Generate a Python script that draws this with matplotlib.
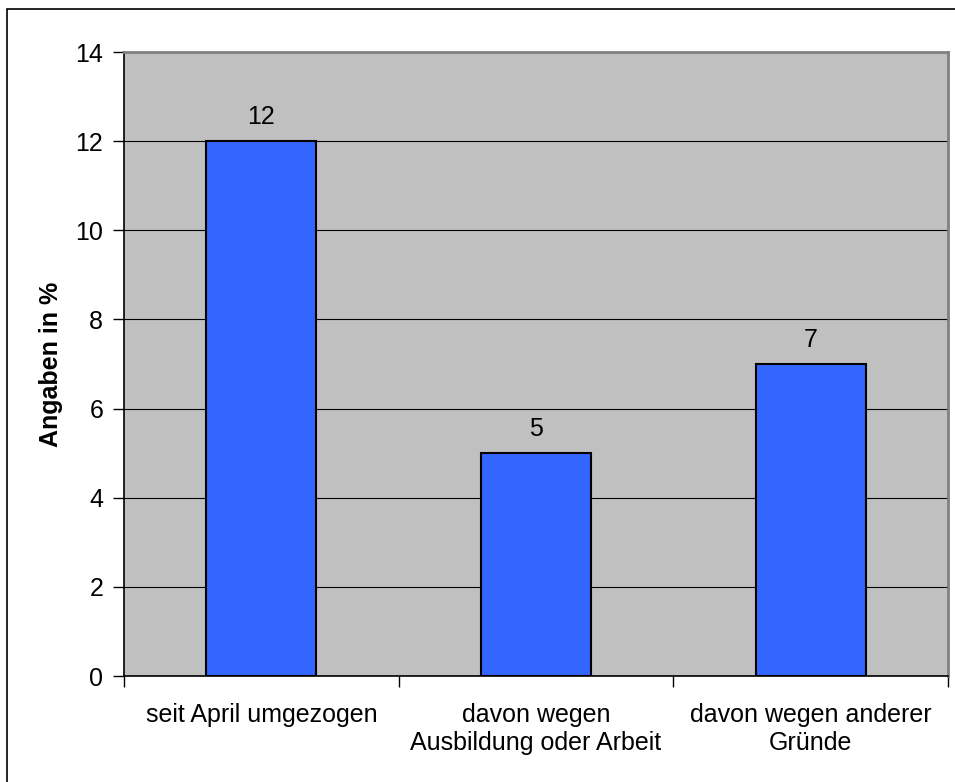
import matplotlib
matplotlib.use("Agg")
import matplotlib.pyplot as plt
from matplotlib.patches import Rectangle

plt.rcParams['font.family'] = ['Liberation Sans', 'DejaVu Sans']

categories = ["seit April umgezogen", "davon wegen\nAusbildung oder Arbeit", "davon wegen anderer\nGründe"]
values = [12, 5, 7]
y_ticks = [0, 2, 4, 6, 8, 10, 12, 14]

W, H = 955, 782
fig = plt.figure(figsize=(W / 100, H / 100), dpi=100)

# outer frame (left and top edges visible)
fig.patches.append(Rectangle((7 / W, -0.1), 1.2, (H - 9) / H + 0.1, transform=fig.transFigure,
                             fill=False, edgecolor='black', linewidth=1.2))

left, right, top, bottom = 124, 948, 52, 676
ax = fig.add_axes([left / W, 1 - bottom / H, (right - left) / W, (bottom - top) / H])
ax.set_facecolor('#C0C0C0')

FS = 18
x = list(range(len(categories)))
ax.bar(x, values, width=0.4, color='#3366FF', edgecolor='black', linewidth=1.5, zorder=3)

for xi, v in zip(x, values):
    ax.text(xi, v + 0.38, str(v), ha='center', va='baseline', fontsize=FS, zorder=4)

ax.set_xlim(-0.5, len(categories) - 0.5)
ax.set_ylim(0, 14)
ax.set_yticks(y_ticks)
ax.set_yticklabels([str(t) for t in y_ticks], fontsize=FS)
ax.yaxis.grid(True, color='black', linewidth=0.8, zorder=1)
ax.set_axisbelow(True)

# category labels centered under bars, ticks at category boundaries
ax.set_xticks([i - 0.5 for i in range(len(categories) + 1)])
ax.set_xticklabels([])
ax.tick_params(axis='x', length=8, width=1, color='black', direction='out')
ax.tick_params(axis='y', length=8, width=1, color='black', direction='out', pad=7)
for xi, c in zip(x, categories):
    ax.text(xi, -0.6, c, ha='center', va='top', fontsize=FS,
            transform=ax.transData, linespacing=1.25)

ax.spines['left'].set_color('black')
ax.spines['bottom'].set_color('black')
ax.spines['left'].set_linewidth(1.2)
ax.spines['bottom'].set_linewidth(1.2)
ax.spines['top'].set_color('#808080')
ax.spines['right'].set_color('#808080')
ax.spines['top'].set_linewidth(2)
ax.spines['right'].set_linewidth(2)

ax.set_ylabel('Angaben in %', fontsize=FS, fontweight='bold', labelpad=9)

fig.savefig('out.png', dpi=100)
